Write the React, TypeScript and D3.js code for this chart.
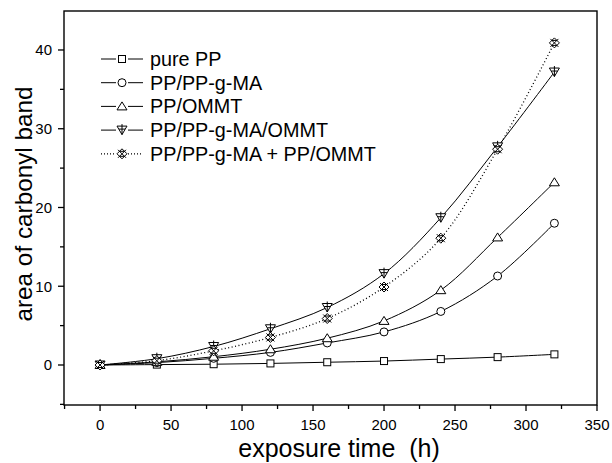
import React from 'react';
import * as d3 from 'd3';

const times = [0, 40, 80, 120, 160, 200, 240, 280, 320];
const purePP = [0, 0.05, 0.1, 0.2, 0.35, 0.5, 0.75, 1.0, 1.35];
const ppMA = [0, 0.3, 0.85, 1.6, 2.8, 4.2, 6.8, 11.3, 18.0];
const ppOMMT = [0, 0.4, 1.05, 2.0, 3.4, 5.6, 9.5, 16.2, 23.2];
const ppMAOMMT = [0, 0.8, 2.35, 4.6, 7.3, 11.6, 18.7, 27.7, 37.2];
const blend = [0, 0.55, 1.8, 3.5, 5.9, 9.9, 16.1, 27.4, 40.9];

const seriesNames = ['pure PP', 'PP/PP-g-MA', 'PP/OMMT', 'PP/PP-g-MA/OMMT', 'PP/PP-g-MA + PP/OMMT'];
const seriesValues = [purePP, ppMA, ppOMMT, ppMAOMMT, blend];
const seriesSymbols = ['square', 'circle', 'triangle', 'downtri', 'hatch'];

const xTicks = [0, 50, 100, 150, 200, 250, 300, 350];
const yTicks = [0, 10, 20, 30, 40];

const W = 612;
const H = 463;
const left = 64, right = 597, top = 11, bottom = 405;

const x = d3.scaleLinear().domain([-25.4, 350]).range([left, right]);
const y = d3.scaleLinear().domain([-5.08, 44.95]).range([bottom, top]);

const font = 'Arial, "Liberation Sans", sans-serif';

const Marker = ({ kind, cx, cy }: { kind: string; cx: number; cy: number }) => {
  const s = { fill: 'white', stroke: 'black', strokeWidth: 1 };
  if (kind === 'square') return <rect x={cx - 3.5} y={cy - 3.5} width={7} height={7} {...s} />;
  if (kind === 'circle') return <circle cx={cx} cy={cy} r={4} {...s} />;
  if (kind === 'triangle')
    return <path d={`M${cx},${cy - 4.5} L${cx + 5},${cy + 3.5} L${cx - 5},${cy + 3.5} Z`} {...s} />;
  if (kind === 'downtri')
    return (
      <g>
        <path d={`M${cx - 5},${cy - 4} L${cx + 5},${cy - 4} L${cx},${cy + 4.5} Z`} {...s} />
        <path d={`M${cx},${cy - 6} V${cy + 4.5} M${cx - 3},${cy - 1} H${cx + 3}`} stroke="black" strokeWidth={1} fill="none" />
      </g>
    );
  return (
    <g>
      <path d={`M${cx},${cy - 5} L${cx + 5},${cy} L${cx},${cy + 5} L${cx - 5},${cy} Z`} {...s} />
      <path
        d={`M${cx - 4},${cy - 4} L${cx + 4},${cy + 4} M${cx + 4},${cy - 4} L${cx - 4},${cy + 4} M${cx - 2.5},${cy - 2.5} L${cx + 2.5},${cy - 2.5} M${cx - 2.5},${cy + 2.5} L${cx + 2.5},${cy + 2.5}`}
        stroke="black"
        strokeWidth={1}
        fill="none"
      />
    </g>
  );
};

const App = () => {
  const line = d3
    .line<number>()
    .x((_, i) => x(times[i]))
    .y((v) => y(v))
    .curve(d3.curveCatmullRom.alpha(0.5));

  const xMinor = d3.range(-25, 351, 25).filter((v) => v % 50 !== 0 && v > -25.4);
  const yMinor = d3.range(-5, 45, 5).filter((v) => v % 10 !== 0);

  return (
    <svg width={W} height={H} style={{ position: 'absolute', left: 0, top: 0, background: 'white' }}>
      <rect x={0} y={0} width={W} height={H} fill="white" />
      {seriesValues.map((vals, k) => (
        <path
          key={'l' + k}
          d={line(vals) || ''}
          fill="none"
          stroke="black"
          strokeWidth={k === 4 ? 1.3 : 1}
          strokeDasharray={k === 4 ? '1,2.5' : undefined}
        />
      ))}
      {seriesValues.map((vals, k) =>
        vals.map((v, i) => <Marker key={`m${k}-${i}`} kind={seriesSymbols[k]} cx={x(times[i])} cy={y(v)} />)
      )}

      {/* frame */}
      <rect x={left} y={top} width={right - left} height={bottom - top} fill="none" stroke="black" strokeWidth={1.4} />

      {/* x axis */}
      {xTicks.map((t) => (
        <g key={'xt' + t}>
          <line x1={x(t)} x2={x(t)} y1={bottom} y2={bottom + 6} stroke="black" strokeWidth={1.3} />
          <text x={x(t)} y={430} textAnchor="middle" fontFamily={font} fontSize={15}>
            {t}
          </text>
        </g>
      ))}
      {xMinor.map((t) => (
        <line key={'xm' + t} x1={x(t)} x2={x(t)} y1={bottom} y2={bottom + 4} stroke="black" strokeWidth={1.3} />
      ))}

      {/* y axis */}
      {yTicks.map((t) => (
        <g key={'yt' + t}>
          <line x1={left - 6} x2={left} y1={y(t)} y2={y(t)} stroke="black" strokeWidth={1.3} />
          <text x={52} y={y(t) + 5.5} textAnchor="end" fontFamily={font} fontSize={15}>
            {t}
          </text>
        </g>
      ))}
      {yMinor.map((t) => (
        <line key={'ym' + t} x1={left - 4} x2={left} y1={y(t)} y2={y(t)} stroke="black" strokeWidth={1.3} />
      ))}

      <text x={339} y={457} textAnchor="middle" fontFamily={font} fontSize={25} style={{ whiteSpace: 'pre' }}>
        {'exposure time  (h)'}
      </text>
      <text
        transform="translate(31.5,204) rotate(-90)"
        textAnchor="middle"
        fontFamily={font}
        fontSize={24.3}
      >
        area of carbonyl band
      </text>

      {/* legend */}
      {seriesNames.map((name, k) => {
        const ly = 59 + k * 23.7;
        return (
          <g key={'lg' + k}>
            <line
              x1={101}
              x2={143}
              y1={ly}
              y2={ly}
              stroke="black"
              strokeWidth={k === 4 ? 1.2 : 1}
              strokeDasharray={k === 4 ? '1,2' : undefined}
            />
            <rect x={116} y={ly - 6} width={12} height={12} fill="white" />
            <Marker kind={seriesSymbols[k]} cx={122} cy={ly} />
            <text x={150} y={ly + 6.8} fontFamily={font} fontSize={19.8}>
              {name}
            </text>
          </g>
        );
      })}
    </svg>
  );
};

export default App;
